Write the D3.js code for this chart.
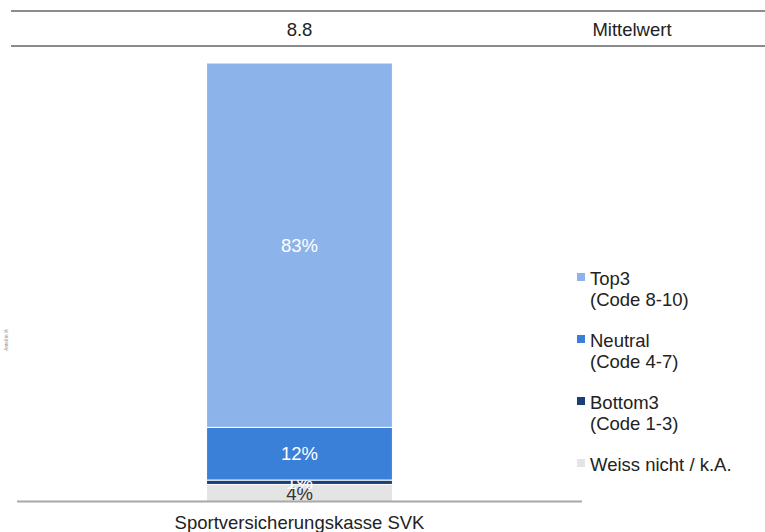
<!DOCTYPE html>
<html>
<head>
<meta charset="utf-8">
<script src="https://cdn.jsdelivr.net/npm/d3@7"></script>
<style>
  body { margin: 0; background: #fff; }
  text { font-family: "Liberation Sans", Arial, sans-serif; }
</style>
</head>
<body>
<div id="chart"></div>
<script>
// data
var categories = ["Sportversicherungskasse SVK"];
var seriesNames = ["Top3", "Neutral", "Bottom3", "Weiss nicht / k.A."];
var seriesSub = ["(Code 8-10)", "(Code 4-7)", "(Code 1-3)", ""];
var seriesColors = ["#8db4ea", "#3a80d9", "#1a3e78", "#e4e4e4"];
var labelColors = ["#ffffff", "#ffffff", "#ffffff", "#333333"];
var top3 = [83], neutral = [12], bottom3 = [1], weiss = [4];
var meanValues = ["8.8"];
var meanLabel = "Mittelwert";

var width = 765, height = 532;
var fs = 18.5;

var svg = d3.select("#chart").append("svg")
    .attr("width", width)
    .attr("height", height);

var x = d3.scaleBand().domain(categories).range([17, 582]).paddingInner(0).paddingOuter(1.02);
var y = d3.scaleLinear().domain([0, 100]).range([502, 63]);

// stack (bottom to top: weiss, bottom3, neutral, top3)
var table = categories.map(function(c, i) {
  return { cat: c, "Top3": top3[i], "Neutral": neutral[i], "Bottom3": bottom3[i], "Weiss nicht / k.A.": weiss[i] };
});
var stackOrder = ["Weiss nicht / k.A.", "Bottom3", "Neutral", "Top3"];
var stacked = d3.stack().keys(stackOrder)(table);

// header lines
svg.append("line").attr("x1", 11).attr("x2", width).attr("y1", 11).attr("y2", 11)
    .attr("stroke", "#8c8c8c").attr("stroke-width", 2);
svg.append("line").attr("x1", 11).attr("x2", width).attr("y1", 46).attr("y2", 46)
    .attr("stroke", "#8c8c8c").attr("stroke-width", 2);

svg.selectAll(".mean")
    .data(categories)
  .enter().append("text")
    .attr("x", function(d) { return x(d) + x.bandwidth() / 2; })
    .attr("y", 36)
    .attr("text-anchor", "middle")
    .attr("font-size", fs)
    .attr("fill", "#222")
    .text(function(d, i) { return meanValues[i]; });

svg.append("text")
    .attr("x", 632).attr("y", 36)
    .attr("text-anchor", "middle")
    .attr("font-size", fs)
    .attr("fill", "#222")
    .text(meanLabel);

// bars
var layers = svg.selectAll(".layer")
    .data(stacked)
  .enter().append("g")
    .attr("class", "layer")
    .attr("fill", function(d) { return seriesColors[seriesNames.indexOf(d.key)]; });

layers.selectAll("rect")
    .data(function(d) { return d; })
  .enter().append("rect")
    .attr("x", function(d) { return x(d.data.cat); })
    .attr("width", x.bandwidth())
    .attr("y", function(d) { return y(d[1]); })
    .attr("height", function(d) { return y(d[0]) - y(d[1]); })
    .attr("stroke", "#fff")
    .attr("stroke-width", 1);

// value labels
layers.each(function(layer) {
  var k = seriesNames.indexOf(layer.key);
  d3.select(this).selectAll("text")
      .data(layer)
    .enter().append("text")
      .attr("x", function(d) { return x(d.data.cat) + x.bandwidth() / 2; })
      .attr("y", function(d) { return (y(d[0]) + y(d[1])) / 2 + 6.5; })
      .attr("text-anchor", "middle")
      .attr("font-size", fs)
      .attr("fill", labelColors[k])
      .text(function(d) { return Math.round(d[1] - d[0]) + "%"; });
});

// baseline
svg.append("line").attr("x1", 17).attr("x2", 582).attr("y1", 501.5).attr("y2", 501.5)
    .attr("stroke", "#a8a8a8").attr("stroke-width", 2);

// category axis
var xAxis = d3.axisBottom(x).tickSize(0).tickPadding(14);
var gx = svg.append("g").attr("transform", "translate(0,502)").call(xAxis);
gx.select(".domain").remove();
gx.selectAll("text").attr("font-size", fs).attr("fill", "#222")
    .attr("font-family", "Liberation Sans, Arial, sans-serif");

// tiny y label
svg.append("text")
    .attr("transform", "translate(8,340) rotate(-90)")
    .attr("text-anchor", "middle")
    .attr("font-size", 4.5)
    .attr("fill", "#888")
    .text("Anteil in %");

// legend
var legend = svg.selectAll(".legend")
    .data(seriesNames)
  .enter().append("g")
    .attr("class", "legend")
    .attr("transform", function(d, i) { return "translate(577," + (285 + i * 62) + ")"; });

legend.append("rect")
    .attr("x", 0).attr("y", -12)
    .attr("width", 8).attr("height", 8)
    .attr("fill", function(d, i) { return seriesColors[i]; });

legend.append("text")
    .attr("x", 13).attr("y", 0)
    .attr("font-size", fs)
    .attr("fill", "#222")
    .text(function(d) { return d; });

legend.append("text")
    .attr("x", 13).attr("y", 21)
    .attr("font-size", fs)
    .attr("fill", "#222")
    .text(function(d, i) { return seriesSub[i]; });
</script>
</body>
</html>
